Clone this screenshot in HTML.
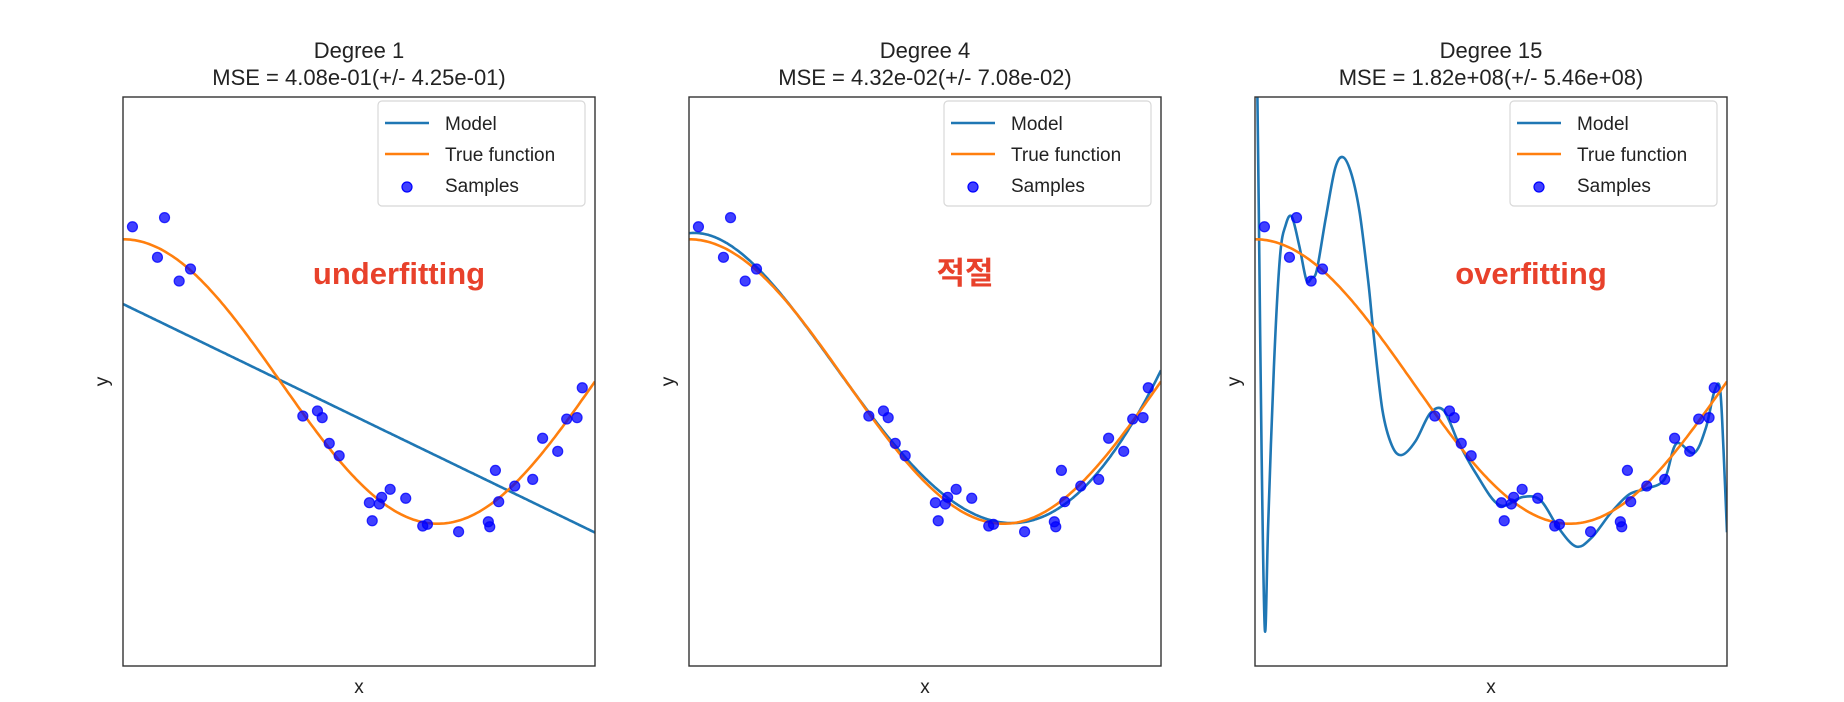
<!DOCTYPE html>
<html><head><meta charset="utf-8">
<style>
html,body{margin:0;padding:0;background:#fff;}
svg{display:block;font-family:"Liberation Sans","DejaVu Sans","Noto Sans CJK KR",sans-serif;}
</style></head>
<body>
<svg id="chart" width="1844" height="702" viewBox="0 0 1844 702" xmlns="http://www.w3.org/2000/svg"></svg>
<script>
// ---- data ----
const sampleX = [0.020,0.073,0.088,0.119,0.143,0.381,0.412,0.422,0.437,0.458,0.522,0.528,0.543,0.548,0.566,0.599,0.635,0.645,0.711,0.774,0.777,0.789,0.796,0.830,0.868,0.889,0.921,0.940,0.962,0.973];
const sampleY = [1.088,0.873,1.152,0.706,0.791,-0.243,-0.207,-0.254,-0.435,-0.522,-0.852,-0.979,-0.861,-0.814,-0.758,-0.821,-1.016,-1.004,-1.056,-0.986,-1.021,-0.625,-0.845,-0.735,-0.688,-0.399,-0.491,-0.264,-0.254,-0.044];
const degrees = [1, 4, 15];
const mseText = ["MSE = 4.08e-01(+/- 4.25e-01)","MSE = 4.32e-02(+/- 7.08e-02)","MSE = 1.82e+08(+/- 5.46e+08)"];
const annotations = ["underfitting","적절","overfitting"];
// degree-15 model curve
const deg15X = [0.000,0.004,0.008,0.014,0.021,0.028,0.040,0.053,0.065,0.078,0.094,0.109,0.120,0.131,0.150,0.170,0.187,0.205,0.222,0.240,0.251,0.270,0.290,0.311,0.340,0.371,0.399,0.427,0.4325,0.4675,0.5175,0.5675,0.605,0.6425,0.68,0.7125,0.755,0.7925,0.83,0.8675,0.8925,0.93,0.955,0.9725,0.985,0.9925,1.0];
const deg15Y = [3.0,2.3,1.2,-0.5,-1.75,-1.0,0.1,0.877,1.10,1.158,0.95,0.713,0.73,0.784,1.15,1.50,1.576,1.45,1.182,0.70,0.339,-0.20,-0.45,-0.517,-0.42,-0.224,-0.20,-0.40,-0.437,-0.644,-0.869,-0.811,-0.836,-1.027,-1.16,-1.10,-0.919,-0.794,-0.753,-0.686,-0.437,-0.503,-0.328,-0.079,-0.046,-0.478,-1.06];

const NS="http://www.w3.org/2000/svg";
const svg=document.getElementById('chart');
function mk(tag,attrs,parent){const e=document.createElementNS(NS,tag);for(const k in attrs)e.setAttribute(k,attrs[k]);(parent||svg).appendChild(e);return e;}

function polyfit(xs,ys,d){
  const n=d+1;const A=[];for(let i=0;i<n;i++){A.push(new Array(n+1).fill(0));}
  for(let k=0;k<xs.length;k++){const p=[];for(let i=0;i<2*n;i++)p.push(Math.pow(xs[k],i));
    for(let i=0;i<n;i++){for(let j=0;j<n;j++)A[i][j]+=p[i+j];A[i][n]+=p[i]*ys[k];}}
  for(let i=0;i<n;i++){let m=i;for(let r=i+1;r<n;r++)if(Math.abs(A[r][i])>Math.abs(A[m][i]))m=r;const tmp=A[i];A[i]=A[m];A[m]=tmp;
    for(let r=0;r<n;r++){if(r===i)continue;const f=A[r][i]/A[i][i];for(let c=i;c<=n;c++)A[r][c]-=f*A[i][c];}}
  return A.map((row,i)=>row[n]/row[i]);
}
function peval(c,x){let s=0;for(let i=c.length-1;i>=0;i--)s=s*x+c[i];return s;}
function smoothPath(P){
  let d='M'+P[0][0].toFixed(1)+','+P[0][1].toFixed(1);
  for(let i=0;i<P.length-1;i++){
    const p0=P[Math.max(0,i-1)],p1=P[i],p2=P[i+1],p3=P[Math.min(P.length-1,i+2)];
    const c1=[p1[0]+(p2[0]-p0[0])/6,p1[1]+(p2[1]-p0[1])/6];
    const c2=[p2[0]-(p3[0]-p1[0])/6,p2[1]-(p3[1]-p1[1])/6];
    d+=' C'+c1[0].toFixed(1)+','+c1[1].toFixed(1)+' '+c2[0].toFixed(1)+','+c2[1].toFixed(1)+' '+p2[0].toFixed(1)+','+p2[1].toFixed(1);
  }
  return d;
}

const lefts=[123,689,1255], plotTop=97, W=472, H=569;
const trueF=x=>Math.cos(1.5*Math.PI*x);

degrees.forEach((deg,pi)=>{
  const L=lefts[pi];
  const g=mk('g',{});
  
  
  const sx=v=>L+v*W, sy=v=>plotTop+(2-v)/4*H;
  const cid='clip'+pi;
  const cp=mk('clipPath',{id:cid},g); mk('rect',{x:L,y:plotTop,width:W,height:H},cp);
  let P=[];
  if(deg===15){ for(let i=0;i<deg15X.length;i++)P.push([sx(deg15X[i]),sy(deg15Y[i])]); }
  else { const c=polyfit(sampleX,sampleY,deg); for(let i=0;i<=200;i++){const x=i/200;P.push([sx(x),sy(peval(c,x))]);} }
  const model=mk('path',{d:smoothPath(P),fill:'none',stroke:'#1f77b4','stroke-width':2.6,'clip-path':'url(#'+cid+')'},g);
  
  
  let tp=[];for(let i=0;i<=200;i++){const x=i/200;tp.push(sx(x).toFixed(1)+','+sy(trueF(x)).toFixed(1));}
  const tl=mk('polyline',{points:tp.join(' '),fill:'none',stroke:'#ff7f0e','stroke-width':2.6,'clip-path':'url(#'+cid+')'},g);
  
  
  sampleX.forEach((x,i)=>{
    const c=mk('circle',{cx:sx(x),cy:sy(sampleY[i]),r:5,fill:'#0000ff','fill-opacity':0.75,stroke:'#0000ff','stroke-opacity':0.8,'stroke-width':1.2},g);
    
    
  });
  const fr=mk('rect',{x:L,y:plotTop,width:W,height:H,fill:'none',stroke:'#333','stroke-width':1.4},g);
  
  
  const t1=mk('text',{x:L+W/2,y:58,'text-anchor':'middle','font-size':22,fill:'#222'},g);
  t1.textContent='Degree '+deg;
  
  
  const t2=mk('text',{x:L+W/2,y:85,'text-anchor':'middle','font-size':22,fill:'#222'},g);
  t2.textContent=mseText[pi];
  
  
  const xl=mk('text',{x:L+W/2,y:693,'text-anchor':'middle','font-size':19,fill:'#222'},g);
  xl.textContent='x';
  
  
  const yl=mk('text',{x:0,y:0,'text-anchor':'middle','font-size':19,fill:'#222',transform:'translate('+(L-15)+','+(plotTop+H/2)+') rotate(-90)'},g);
  yl.textContent='y';
  
  
  const lg=mk('g',{},g);
  
  
  const lx=L+W-217, ly=plotTop+4;
  mk('rect',{x:lx,y:ly,width:207,height:105,rx:4,fill:'#fff','fill-opacity':0.85,stroke:'#d8d8d8','stroke-width':1.2},lg);
  [['Model','#1f77b4'],['True function','#ff7f0e'],['Samples',null]].forEach((e,i)=>{
    const yy=ly+22+i*31;
    const ent=mk('g',{},lg);
    
    
    if(e[1])mk('line',{x1:lx+7,x2:lx+51,y1:yy,y2:yy,stroke:e[1],'stroke-width':2.6},ent);
    else mk('circle',{cx:lx+29,cy:yy+2,r:5,fill:'#0000ff','fill-opacity':0.75,stroke:'#0000ff','stroke-width':1.2},ent);
    const tt=mk('text',{x:lx+67,y:yy+7,'font-size':19,fill:'#222'},ent);
    tt.textContent=e[0];
  });
  const an=mk('text',{x:L+W/2+40,y:284,'text-anchor':'middle','font-size':31,'font-weight':'bold',fill:'#e8412b'},g);
  an.textContent=annotations[pi];
  
  
});
</script>
</body></html>
